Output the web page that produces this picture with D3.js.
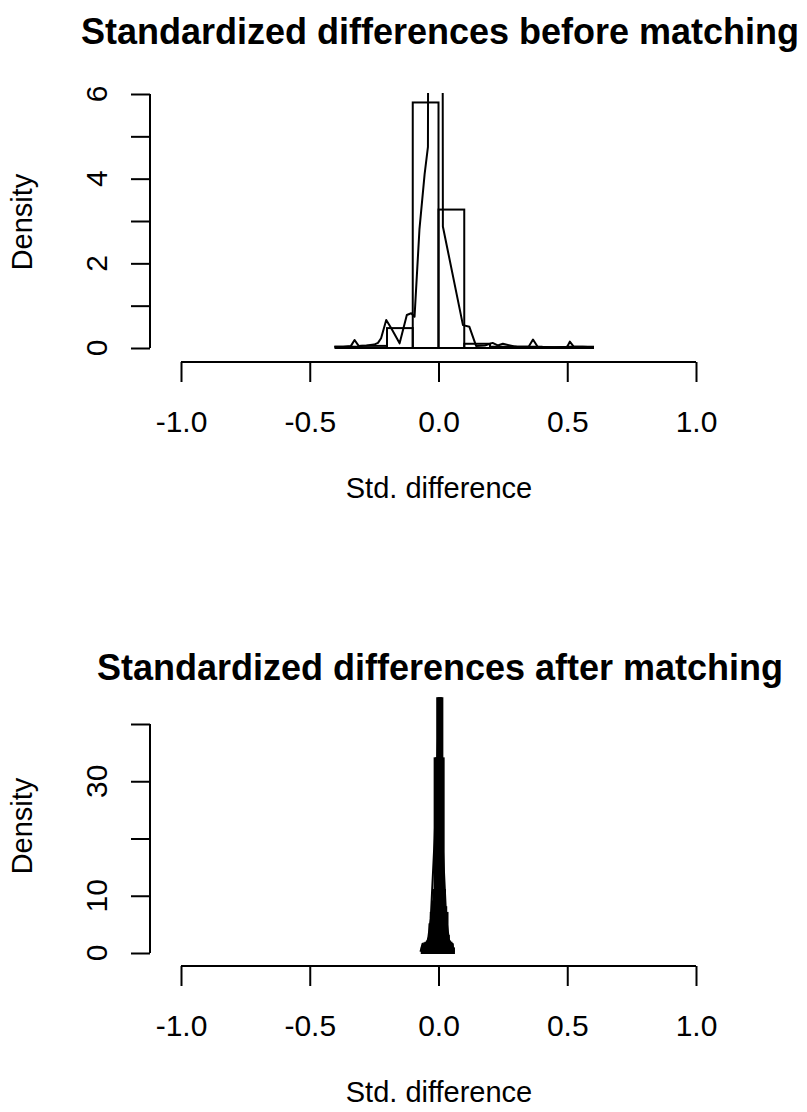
<!DOCTYPE html>
<html>
<head>
<meta charset="utf-8">
<script src="https://cdn.jsdelivr.net/npm/d3@7"></script>
<style>
  body { margin: 0; background: #fff; }
  svg { display: block; font-family: "Liberation Sans", Arial, sans-serif; }
</style>
</head>
<body>
<div id="chart"></div>
<script>
// shared x axis
const xTicks = [-1, -0.5, 0, 0.5, 1];
const xTickLabels = ["-1.0", "-0.5", "0.0", "0.5", "1.0"];

// before matching: histogram (bin width 0.1) + density curve
const beforeBinStarts = [-0.4, -0.3, -0.2, -0.1, 0, 0.1, 0.2, 0.3, 0.4, 0.5];
const beforeHist = [0.03, 0.05, 0.47, 5.8, 3.27, 0.1, 0.03, 0.03, 0.02, 0.03];
const beforeKdeX = [-0.405, -0.37, -0.34, -0.326, -0.31, -0.28, -0.25, -0.235, -0.223, -0.203, -0.184, -0.151, -0.123, -0.106, -0.093, -0.074, -0.054, -0.041, -0.04, -0.01, 0.016, 0.017, 0.095, 0.12, 0.146, 0.18, 0.21, 0.23, 0.25, 0.3, 0.35, 0.367, 0.385, 0.45, 0.5, 0.51, 0.525, 0.56, 0.6];
const beforeKdeY = [0.03, 0.03, 0.05, 0.19, 0.05, 0.06, 0.08, 0.12, 0.23, 0.66, 0.47, 0.11, 0.78, 0.82, 0.74, 2.8, 4.1, 4.75, 8, 15, 8, 2.87, 0.54, 0.5, 0.05, 0.06, 0.12, 0.06, 0.1, 0.03, 0.03, 0.2, 0.03, 0.02, 0.03, 0.15, 0.03, 0.03, 0.02];
const beforeYTicks = [0, 1, 2, 3, 4, 5, 6];
const beforeYLabels = [0, 2, 4, 6];

// after matching: very narrow bins (width 0.005)
const afterBinStarts = [-0.065, -0.06, -0.055, -0.05, -0.045, -0.04, -0.035, -0.03, -0.025, -0.02, -0.015, -0.01, -0.005, 0, 0.005, 0.01, 0.015, 0.02, 0.025, 0.03, 0.035, 0.04, 0.045, 0.05, 0.055];
const afterHist = [0.8, 1.5, 1.7, 1.8, 2, 2.5, 5, 7, 9, 11, 34, 34, 44.5, 44.5, 44.5, 44.5, 34, 11, 8, 7, 3, 2, 1.8, 1.5, 0.8];
const afterKdeX = [-0.07, -0.062, -0.055, -0.04, -0.03, -0.015, 0, 0.015, 0.03, 0.04, 0.05, 0.054, 0.06];
const afterKdeY = [0.2, 1.6, 0.5, 2.5, 6, 20, 40, 20, 6, 2.5, 0.5, 1.6, 0.2];
const afterYTicks = [0, 10, 20, 30, 40];
const afterYLabels = [0, 10, 30];

const W = 807, H = 1112;
const svg = d3.select("#chart").append("svg")
    .attr("width", W)
    .attr("height", H);

function drawPanel(p) {
  const g = svg.append("g");
  const x = d3.scaleLinear().domain([-1, 1]).range([181, 696]);
  const y = d3.scaleLinear().domain(p.yDomain).range(p.yRange);

  // title
  g.append("text")
    .attr("x", 440).attr("y", p.titleY)
    .attr("text-anchor", "middle")
    .attr("font-size", 36).attr("font-weight", "bold")
    .text(p.title);

  const clipId = "clip-" + p.id;
  g.append("clipPath").attr("id", clipId)
    .append("rect")
    .attr("x", 150).attr("y", p.clipTop)
    .attr("width", 578).attr("height", p.axisY - p.clipTop);

  const plot = g.append("g").attr("clip-path", `url(#${clipId})`);

  // histogram rectangles
  plot.selectAll("rect.bar")
    .data(p.binStarts.map((s, i) => ({ x0: s, x1: s + p.binWidth, v: p.hist[i] })))
    .join("rect")
    .attr("class", "bar")
    .attr("x", d => x(d.x0))
    .attr("y", d => y(d.v))
    .attr("width", d => x(d.x1) - x(d.x0))
    .attr("height", d => y(0) - y(d.v))
    .attr("fill", p.barFill)
    .attr("stroke", "#000")
    .attr("stroke-width", 2);

  // density line
  const line = d3.line().x(d => x(d[0])).y(d => y(d[1]));
  plot.append("path")
    .datum(p.kdeX.map((v, i) => [v, p.kdeY[i]]))
    .attr("d", line)
    .attr("fill", "none")
    .attr("stroke", "#000")
    .attr("stroke-width", 2)
    .attr("stroke-linejoin", "round");

  // x axis
  const xa = g.append("g").attr("transform", `translate(0,${p.axisY})`);
  xa.call(d3.axisBottom(x).tickValues(xTicks).tickSize(20).tickFormat((d, i) => xTickLabels[i]));
  xa.select(".domain").attr("d", `M${x(-1)},0H${x(1)}`).attr("stroke-width", 2);
  xa.selectAll(".tick line").attr("stroke-width", 2);
  xa.selectAll(".tick text")
    .attr("y", 70).attr("dy", 0)
    .attr("font-size", 30).attr("fill", "#000");

  // y axis
  const ya = g.append("g").attr("transform", "translate(150,0)");
  ya.call(d3.axisLeft(y).tickValues(p.yTicks).tickSize(19).tickFormat(""));
  ya.select(".domain").attr("d", `M0,${y(p.yTicks[0])}V${y(p.yTicks[p.yTicks.length - 1])}`).attr("stroke-width", 2);
  ya.selectAll(".tick line").attr("stroke-width", 2);
  g.selectAll("text.ylab")
    .data(p.yLabels)
    .join("text")
    .attr("class", "ylab")
    .attr("transform", d => `translate(107,${y(d)}) rotate(-90)`)
    .attr("text-anchor", "middle")
    .attr("font-size", 30)
    .text(d => d);

  // axis titles
  g.append("text")
    .attr("x", 439).attr("y", p.axisY + 136)
    .attr("text-anchor", "middle")
    .attr("font-size", 29)
    .text("Std. difference");
  g.append("text")
    .attr("transform", `translate(32,${p.ylabY}) rotate(-90)`)
    .attr("text-anchor", "middle")
    .attr("font-size", 29)
    .text("Density");
}

drawPanel({
  id: "before",
  title: "Standardized differences before matching",
  titleY: 44,
  yDomain: [0, 6], yRange: [348, 94],
  clipTop: 93, axisY: 362,
  binStarts: beforeBinStarts, binWidth: 0.1, hist: beforeHist, barFill: "none",
  kdeX: beforeKdeX, kdeY: beforeKdeY,
  yTicks: beforeYTicks, yLabels: beforeYLabels,
  ylabY: 222
});

drawPanel({
  id: "after",
  title: "Standardized differences after matching",
  titleY: 680,
  yDomain: [0, 40], yRange: [953, 724],
  clipTop: 690, axisY: 966,
  binStarts: afterBinStarts, binWidth: 0.005, hist: afterHist, barFill: "#000",
  kdeX: afterKdeX, kdeY: afterKdeY,
  yTicks: afterYTicks, yLabels: afterYLabels,
  ylabY: 826
});
</script>
</body>
</html>
